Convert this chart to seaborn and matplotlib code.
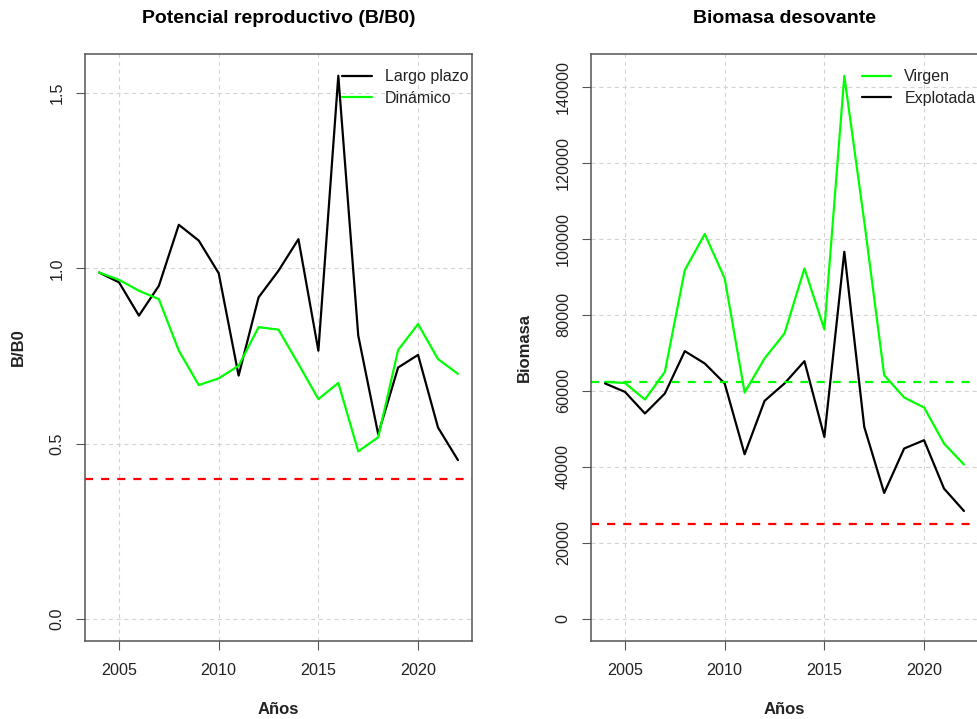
import matplotlib
matplotlib.use("Agg")
import matplotlib.pyplot as plt
import seaborn as sns
import pandas as pd

# ---------------- data ----------------
years = [2004, 2005, 2006, 2007, 2008, 2009, 2010, 2011, 2012, 2013,
         2014, 2015, 2016, 2017, 2018, 2019, 2020, 2021, 2022]

largo_plazo = [0.988, 0.960, 0.865, 0.950, 1.124, 1.079, 0.986, 0.694, 0.917, 0.993,
               1.083, 0.765, 1.549, 0.808, 0.527, 0.717, 0.753, 0.546, 0.453]
dinamico = [0.988, 0.967, 0.936, 0.912, 0.765, 0.667, 0.686, 0.722, 0.832, 0.825,
            0.727, 0.627, 0.673, 0.478, 0.518, 0.767, 0.841, 0.741, 0.699]

virgen = [62300, 62000, 57660, 64930, 91710, 101190, 89520, 59500, 68460, 75040,
          92150, 76090, 142790, 104500, 64060, 58190, 55560, 46080, 40550]
explotada = [61880, 59660, 53980, 59240, 70380, 67140, 61880, 43260, 57300, 61880,
             67750, 47820, 96530, 50450, 33070, 44760, 46950, 34230, 28330]

ref_ratio = 0.4          # limit reference B/B0
b0 = 62300               # virgin reference biomass
ref_biomasa = 0.4 * b0   # limit reference biomass

x_ticks = [2005, 2010, 2015, 2020]
y_ticks_left = [0.0, 0.5, 1.0, 1.5]
y_ticks_right = [0, 20000, 40000, 60000, 80000, 100000, 120000, 140000]

titles = ["Potencial reproductivo (B/B0)", "Biomasa desovante"]
ylabels = ["B/B0", "Biomasa"]
xlabel = "Años"

# ---------------- style ----------------
sns.set_theme(style="white")
plt.rcParams["font.family"] = ["Liberation Sans", "DejaVu Sans"]
plt.rcParams["lines.scale_dashes"] = False
plt.rcParams["axes.unicode_minus"] = False

W, H = 977, 719
fig = plt.figure(figsize=(W / 100, H / 100), dpi=100)
fig.patch.set_facecolor("white")

def px_x(p):
    return p / W

def px_y(p):
    return (H - p) / H

ax_w = 387.6 / W
ax_h = 586.7 / H
ax_y0 = px_y(640.7)
ax1 = fig.add_axes([px_x(84.7), ax_y0, ax_w, ax_h])
ax2 = fig.add_axes([px_x(590.7), ax_y0, ax_w, ax_h])

df1 = pd.DataFrame({"Año": years, "Largo plazo": largo_plazo, "Dinámico": dinamico})
df2 = pd.DataFrame({"Año": years, "Virgen": virgen, "Explotada": explotada})

LW = 1.6
TEXT = "#222222"
FRAME = "#555555"
GRID = "#d3d3d3"
dash_ref = (0, (5.8, 5.8))
dash_grid = (0, (3.0, 2.6))

# left panel
sns.lineplot(data=df1, x="Año", y="Largo plazo", ax=ax1, color="black", lw=LW, label="Largo plazo")
sns.lineplot(data=df1, x="Año", y="Dinámico", ax=ax1, color="#00ff00", lw=LW, label="Dinámico")
ax1.axhline(ref_ratio, color="red", lw=LW, linestyle=dash_ref)
ax1.set_xlim(2003.28, 2022.72)
ax1.set_ylim(-0.062, 1.611)
ax1.set_yticks(y_ticks_left)
ax1.set_yticklabels([f"{v:.1f}" for v in y_ticks_left])

# right panel
sns.lineplot(data=df2, x="Año", y="Virgen", ax=ax2, color="#00ff00", lw=LW, label="Virgen")
sns.lineplot(data=df2, x="Año", y="Explotada", ax=ax2, color="black", lw=LW, label="Explotada")
ax2.axhline(b0, color="#00ff00", lw=LW, linestyle=dash_ref)
ax2.axhline(ref_biomasa, color="red", lw=LW, linestyle=dash_ref)
ax2.set_xlim(2003.28, 2022.72)
ax2.set_ylim(-5800, 148560)
ax2.set_yticks(y_ticks_right)
ax2.set_yticklabels([str(v) for v in y_ticks_right])

legend_anchor = [(0.6646, 0.9736), (0.6992, 0.9736)]
for ax, title, yl, cx_lab, anchor in zip([ax1, ax2], titles, ylabels, [18.8, 524.0], legend_anchor):
    ax.set_xticks(x_ticks)
    ax.set_xticklabels([str(v) for v in x_ticks])
    ax.set_xlabel("")
    ax.set_ylabel("")
    ax.set_axisbelow(True)
    ax.grid(True, color=GRID, lw=0.8, linestyle=dash_grid)
    for s in ax.spines.values():
        s.set_visible(True)
        s.set_color(FRAME)
        s.set_linewidth(1.1)
    ax.tick_params(axis="both", which="major", direction="out", length=6.8, width=0.8,
                   color=FRAME, labelsize=11.6, labelcolor=TEXT,
                   bottom=True, left=True, top=False, right=False)
    ax.tick_params(axis="x", pad=9.5)
    ax.tick_params(axis="y", pad=7.5, labelrotation=90)
    for lab in ax.get_yticklabels():
        lab.set_va("center")
    leg = ax.legend(loc="upper left", bbox_to_anchor=anchor, frameon=False,
                    borderpad=0, borderaxespad=0, handlelength=1.84,
                    handletextpad=0.83, labelspacing=0.38, fontsize=11.5)
    for t in leg.get_texts():
        t.set_color(TEXT)
    for h in leg.get_lines():
        h.set_linewidth(LW)
    # title
    bb = ax.get_position()
    cx = (bb.x0 + bb.x1) / 2
    fig.text(cx, px_y(23.3), title, ha="center", va="baseline",
             fontsize=14, fontweight="bold", color="black")
    fig.text(cx, px_y(714.5), xlabel, ha="center", va="baseline",
             fontsize=12, fontweight="bold", color=TEXT)
    fig.text(px_x(cx_lab), (bb.y0 + bb.y1) / 2, yl, ha="center", va="center",
             rotation=90, fontsize=12, fontweight="bold", color=TEXT)

fig.savefig("out.png", dpi=100, facecolor="white")
